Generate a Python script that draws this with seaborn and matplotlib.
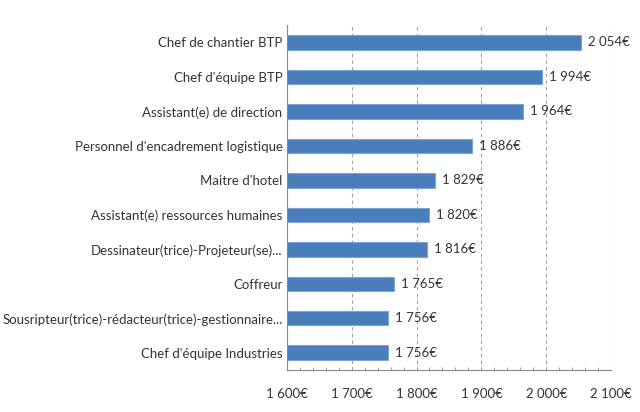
import numpy as np
import pandas as pd
import seaborn as sns
import matplotlib.pyplot as plt
from matplotlib.ticker import MultipleLocator, FuncFormatter

metiers = ["Chef de chantier BTP", "Chef d'équipe BTP", "Assistant(e) de direction",
           "Personnel d'encadrement logistique", "Maitre d'hotel",
           "Assistant(e) ressources humaines", "Dessinateur(trice)-Projeteur(se)...",
           "Coffreur", "Sousripteur(trice)-rédacteur(trice)-gestionnaire...",
           "Chef d'équipe Industries"]
salaires = [2054, 1994, 1964, 1886, 1829, 1820, 1816, 1765, 1756, 1756]
xticks = [1600, 1700, 1800, 1900, 2000, 2100]

df = pd.DataFrame({"metier": metiers, "salaire": salaires})

sns.set_style("white")
plt.rcParams['font.family'] = ['Liberation Sans Narrow', 'Lato', 'DejaVu Sans']

def euro(v):
    s = f"{int(v):,}".replace(",", " ")
    return s + "€"

fs = 9.5
fig = plt.figure(figsize=(6.4, 4.12), dpi=100)
ax = fig.add_axes([0.448, 0.102, 0.507, 0.837])
sns.barplot(data=df, x="salaire", y="metier", order=metiers, color="#4a7ebb",
            width=0.42, edgecolor="#7aa3d6", linewidth=0.8, saturation=1, ax=ax)

ax.set_xlim(1600, 2100)
ax.set_xticks(xticks)
ax.xaxis.set_minor_locator(MultipleLocator(20))
ax.xaxis.set_major_formatter(FuncFormatter(lambda v, p: euro(v)))
ax.grid(axis="x", which="major", linestyle=(0, (3, 3)), color="#a0a0a0", linewidth=0.8)
ax.set_axisbelow(True)
ax.set_xlabel("")
ax.set_ylabel("")

for s in ["top", "right"]:
    ax.spines[s].set_visible(False)
for s in ["left", "bottom"]:
    ax.spines[s].set_color("#888888")
    ax.spines[s].set_linewidth(0.8)

# category separators on y axis
ax.set_yticks(np.arange(len(metiers)))
ax.set_yticklabels(metiers)
ax.yaxis.set_minor_locator(MultipleLocator(1, offset=0.5))
ax.tick_params(axis="y", which="major", length=0, pad=3, labelsize=fs, labelcolor="#333333")
ax.tick_params(axis="y", which="minor", length=4, color="#888888", direction="out")
ax.tick_params(axis="x", which="major", length=5, color="#888888", labelsize=fs,
               labelcolor="#333333", pad=8)
ax.tick_params(axis="x", which="minor", length=2.5, color="#888888", direction="in", bottom=True)
ax.set_ylim(len(metiers) - 0.5, -0.5)

for i, v in enumerate(salaires):
    ax.annotate(euro(v), (v, i), xytext=(5, 0), textcoords="offset points",
                va="center", ha="left", fontsize=fs, color="#333333")

fig.savefig("out.png", dpi=100)
